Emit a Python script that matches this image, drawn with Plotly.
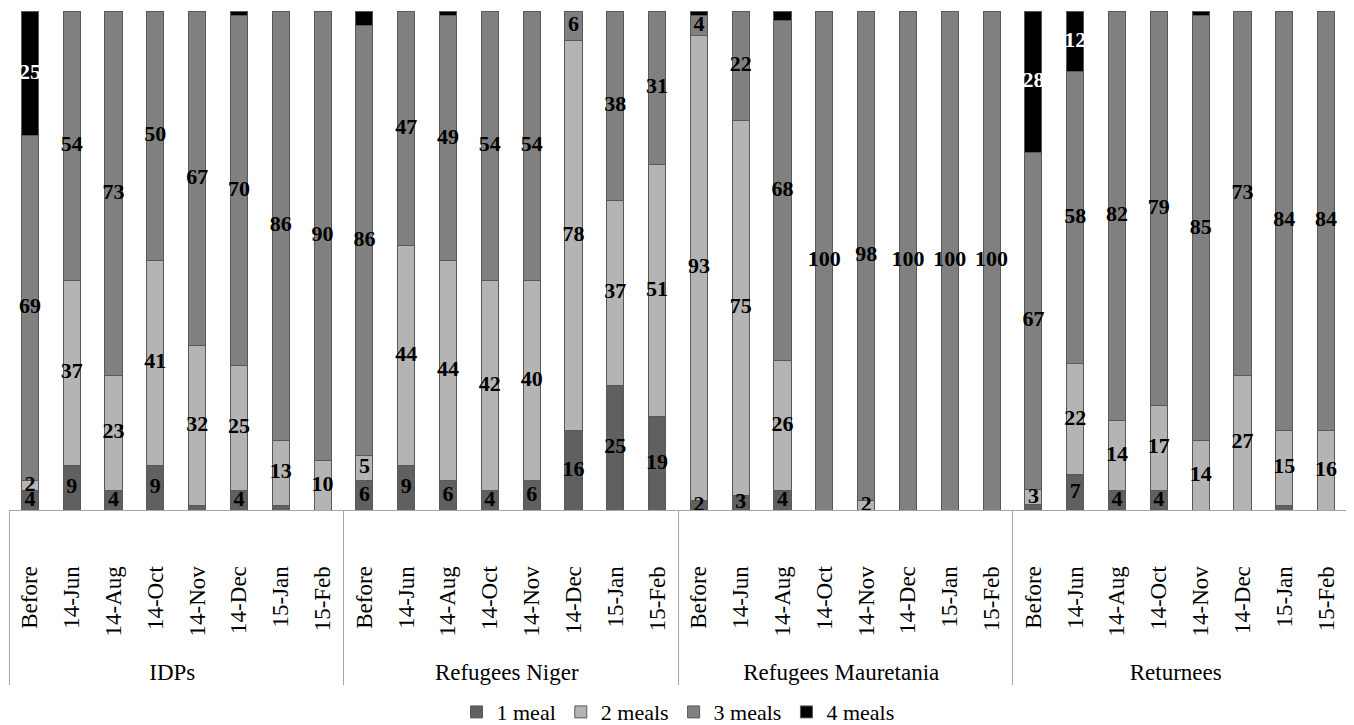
import plotly.graph_objects as go

groups = ["IDPs", "Refugees Niger", "Refugees Mauretania", "Returnees"]
periods = ["Before", "14-Jun", "14-Aug", "14-Oct", "14-Nov", "14-Dec", "15-Jan", "15-Feb"]

one_meal = [4, 9, 4, 9, 1, 4, 1, 0,
            6, 9, 6, 4, 6, 16, 25, 19,
            2, 3, 4, 0, 0, 0, 0, 0,
            1, 7, 4, 4, 0, 0, 1, 0]
two_meals = [2, 37, 23, 41, 32, 25, 13, 10,
             5, 44, 44, 42, 40, 78, 37, 51,
             93, 75, 26, 0, 2, 0, 0, 0,
             3, 22, 14, 17, 14, 27, 15, 16]
three_meals = [69, 54, 73, 50, 67, 70, 86, 90,
               86, 47, 49, 54, 54, 6, 38, 31,
               4, 22, 68, 100, 98, 100, 100, 100,
               67, 58, 82, 79, 85, 73, 84, 84]
four_meals = [25, 0, 0, 0, 0, 1, 0, 0,
              3, 0, 1, 0, 0, 0, 0, 0,
              1, 0, 2, 0, 0, 0, 0, 0,
              28, 12, 0, 0, 1, 0, 0, 0]

FONT = "Liberation Serif"
NB = "\u00a0"

# trailing nbsp push the rotated labels away from the axis line
x = [[g for g in groups for _ in periods],
     [p + NB * 8 for _ in groups for p in periods]]

series = [
    ("1 meal", one_meal, "#606060", "black", 2),
    ("2 meals", two_meals, "#b4b4b4", "black", 2),
    ("3 meals", three_meals, "#808080", "black", 2),
    ("4 meals", four_meals, "#000000", "white", 10),
]

totals = [sum(s[1][i] for s in series) for i in range(len(one_meal))]

fig = go.Figure()
base = [0] * len(one_meal)
for name, vals, color, tcolor, minlab in series:
    fig.add_trace(go.Bar(
        x=x, y=vals, name=name,
        marker=dict(color=color, line=dict(color="#595959", width=1)),
    ))
    # label in the middle of each segment (100% stacked)
    mids = [(b + v / 2) / t * 100 for b, v, t in zip(base, vals, totals)]
    fig.add_trace(go.Scatter(
        x=x, y=mids, mode="text", showlegend=False, hoverinfo="skip",
        text=[str(v) if v >= minlab else "" for v in vals],
        textfont=dict(family=FONT, size=22, color=tcolor, weight="bold"),
        cliponaxis=False,
    ))
    base = [b + v for b, v in zip(base, vals)]

fig.update_layout(
    barmode="stack", barnorm="percent", bargap=0.59,
    width=1346, height=717,
    margin=dict(l=1, r=7, t=3, b=215),
    plot_bgcolor="white", paper_bgcolor="white",
    font=dict(family=FONT, size=23, color="black"),
    legend=dict(orientation="h", x=0.5, xanchor="center", yref="container",
                y=0.018, yanchor="middle", font=dict(family=FONT, size=22),
                traceorder="normal"),
)
fig.update_xaxes(type="multicategory", tickangle=-90, showline=True, linecolor="#a6a6a6",
                 showdividers=True, dividercolor="#a6a6a6", dividerwidth=1, ticks="",
                 automargin=False, range=[-0.5, 31.5])
fig.update_yaxes(range=[0, 100], showticklabels=False, showgrid=False, zeroline=False,
                 automargin=False)

fig.write_html("out.html")
